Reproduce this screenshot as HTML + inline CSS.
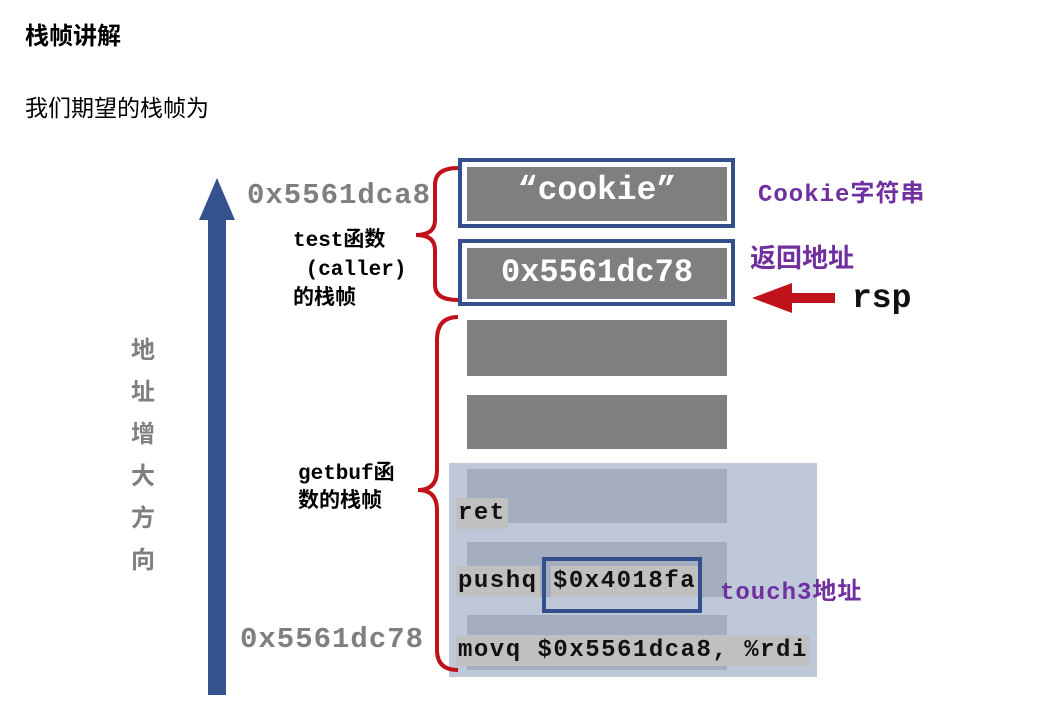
<!DOCTYPE html>
<html><head><meta charset="utf-8"><style>
body{margin:0;background:#fff;width:1058px;height:722px;overflow:hidden;position:relative;font-family:"Liberation Sans","Noto Sans CJK SC",sans-serif}
.a{position:absolute;white-space:nowrap}
.m{font-family:"Liberation Mono","Noto Sans CJK SC",monospace;font-weight:bold}
.hl{background:#c0c0c0;color:#111}
</style></head><body>
<svg class="a" style="left:0;top:0" width="1058" height="722">
<polygon points="217,178 235,220 226,220 226,695 208,695 208,220 199,220" fill="#35528f"/>
<rect x="449" y="463" width="368" height="214" fill="#bec8d8"/>
<rect x="467" y="469" width="260" height="54" fill="#a3adbd"/>
<rect x="467" y="542" width="260" height="55" fill="#a3adbd"/>
<rect x="467" y="615" width="260" height="55" fill="#a3adbd"/>
<rect x="467" y="320" width="260" height="56" fill="#7f7f7f"/>
<rect x="467" y="395" width="260" height="54" fill="#7f7f7f"/>
<rect x="460" y="160" width="273" height="66" fill="#fff" stroke="#34508c" stroke-width="4"/>
<rect x="467" y="167" width="260" height="54" fill="#7f7f7f"/>
<rect x="460" y="241" width="273" height="63" fill="#fff" stroke="#34508c" stroke-width="4"/>
<rect x="467" y="248" width="260" height="51" fill="#7f7f7f"/>
<path d="M458,168 Q435,168 435,185 L435,220 Q435,235 416,235 Q435,235 435,250 L435,285 Q435,300 458,300" fill="none" stroke="#c0121b" stroke-width="4"/>
<path d="M458,317 Q437,317 437,340 L437,470 Q437,490 418,490 Q437,490 437,510 L437,650 Q437,670 458,670" fill="none" stroke="#c0121b" stroke-width="4"/>
<polygon points="752,298 792,283 792,293 835,293 835,303 792,303 792,313" fill="#c0121b"/>
<rect x="544" y="559" width="156" height="52" fill="none" stroke="#34508c" stroke-width="4"/>
</svg>
<div class="a" style="left:25px;top:16px;font-size:24px;font-weight:bold">栈帧讲解</div>
<div class="a" style="left:25px;top:89px;font-size:23px">我们期望的栈帧为</div>
<div class="a" style="left:131px;top:330px;width:30px;font-size:24px;font-weight:bold;color:#7f7f7f;line-height:42px;white-space:normal">地址增大方向</div>
<div class="a m" style="left:247px;top:179px;font-size:29px;letter-spacing:1px;color:#7f7f7f">0x5561dca8</div>
<div class="a m" style="left:240px;top:623px;font-size:29px;letter-spacing:1px;color:#7f7f7f">0x5561dc78</div>
<div class="a m" style="left:293px;top:227px;font-size:21px;line-height:29px">test函数<br>&nbsp;(caller)<br>的栈帧</div>
<div class="a m" style="left:298px;top:461px;font-size:21px;line-height:28px">getbuf函<br>数的栈帧</div>
<div class="a m" style="left:467px;top:172px;width:260px;text-align:center;font-size:33px;color:#fff">“cookie”</div>
<div class="a m" style="left:467px;top:254px;width:260px;text-align:center;font-size:32px;color:#fff">0x5561dc78</div>
<div class="a m" style="left:758px;top:173px;font-size:24px;letter-spacing:1px;color:#7030a0">Cookie字符串</div>
<div class="a m" style="left:750px;top:238px;font-size:26px;color:#7030a0">返回地址</div>
<div class="a m" style="left:852px;top:280px;font-size:33px;color:#111">rsp</div>
<div class="a m hl" style="left:456px;top:498px;font-size:24px;letter-spacing:1.5px;padding:2px 2px">ret</div>
<div class="a m hl" style="left:456px;top:566px;font-size:24px;letter-spacing:1.5px;padding:2px 2px">pushq</div>
<div class="a m hl" style="left:551px;top:566px;font-size:24px;letter-spacing:1.5px;padding:2px 2px">$0x4018fa</div>
<div class="a m" style="left:720px;top:571px;font-size:24px;letter-spacing:1px;color:#7030a0">touch3地址</div>
<div class="a m hl" style="left:456px;top:635px;font-size:24px;letter-spacing:1.5px;padding:2px 2px">movq $0x5561dca8, %rdi</div>
</body></html>
